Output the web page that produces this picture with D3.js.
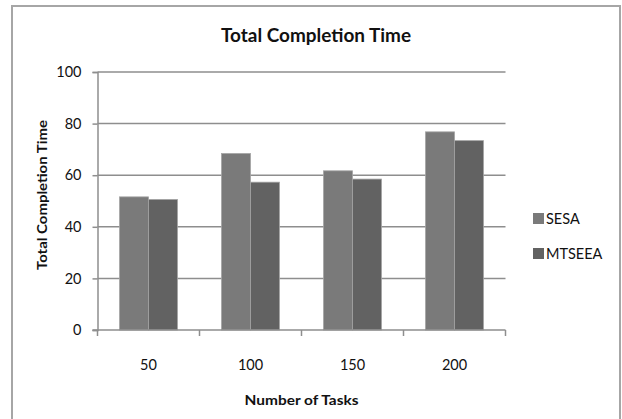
<!DOCTYPE html>
<html>
<head>
<meta charset="utf-8">
<script src="https://cdn.jsdelivr.net/npm/d3@7"></script>
<style>
  html, body { margin: 0; padding: 0; background: #fff; }
  svg { display: block; font-family: Lato, "Noto Sans", sans-serif; }
</style>
</head>
<body>
<svg id="chart" width="622" height="419"></svg>
<script>
// Number of tasks on the x axis
const categories = ["50", "100", "150", "200"];
// Series names, in legend order
const seriesNames = ["SESA", "MTSEEA"];
// Total completion time per task count
const sesaValues = [51.6, 68.4, 61.7, 76.8];
const mtseeaValues = [50.6, 57.3, 58.5, 73.4];
// Y axis ticks
const yTicks = [0, 20, 40, 60, 80, 100];

const seriesValues = [sesaValues, mtseeaValues];
const colors = ["#7a7a7a", "#626262"];

const svg = d3.select("#chart");

// Outer frame
svg.append("rect")
  .attr("x", 12).attr("y", 6)
  .attr("width", 608).attr("height", 420)
  .attr("fill", "#fff")
  .attr("stroke", "#a6a6a6").attr("stroke-width", 2);

const plot = { left: 97.5, right: 505.5, top: 72, bottom: 330 };

const x = d3.scaleBand()
  .domain(categories)
  .range([plot.left, plot.right])
  .paddingInner(0).paddingOuter(0);

const xs = d3.scaleBand()
  .domain(seriesNames)
  .range([0, x.bandwidth()])
  .paddingInner(0).paddingOuter(0.76);

const y = d3.scaleLinear().domain([0, 100]).range([plot.bottom, plot.top]);

// Horizontal gridlines
svg.append("g")
  .selectAll("line")
  .data(yTicks.filter(d => d > 0))
  .join("line")
  .attr("x1", plot.left).attr("x2", plot.right)
  .attr("y1", d => y(d)).attr("y2", d => y(d))
  .attr("stroke", "#8e8e8e").attr("stroke-width", 1.5);

// Bars
const groups = svg.append("g")
  .selectAll("g")
  .data(categories)
  .join("g")
  .attr("transform", d => `translate(${x(d)},0)`);

groups.selectAll("rect")
  .data((c, i) => seriesNames.map((s, j) => ({ s, j, v: seriesValues[j][i] })))
  .join("rect")
  .attr("x", d => xs(d.s))
  .attr("y", d => y(d.v))
  .attr("width", xs.bandwidth())
  .attr("height", d => y(0) - y(d.v))
  .attr("fill", d => colors[d.j])
  .attr("stroke", "#a4a4a4").attr("stroke-width", 0.8);

// Y axis
const yAxis = svg.append("g")
  .attr("transform", `translate(${plot.left},0)`)
  .call(d3.axisLeft(y).tickValues(yTicks).tickSize(5).tickPadding(11));
yAxis.select(".domain").attr("stroke", "#8e8e8e").attr("stroke-width", 1.5);
yAxis.selectAll(".tick line").attr("stroke", "#8e8e8e").attr("stroke-width", 1.5);
yAxis.selectAll(".tick text")
  .attr("font-family", "Lato, sans-serif")
  .attr("font-size", 14.5).attr("fill", "#111");

// X axis with ticks on category boundaries
const xAxisG = svg.append("g")
  .attr("transform", `translate(0,${plot.bottom})`);
xAxisG.append("line")
  .attr("x1", plot.left - 5).attr("x2", plot.right)
  .attr("stroke", "#8e8e8e").attr("stroke-width", 1.5);
const boundaries = categories.map(c => x(c)).concat([plot.right]);
xAxisG.selectAll("line.tick")
  .data(boundaries)
  .join("line")
  .attr("class", "tick")
  .attr("x1", d => d).attr("x2", d => d)
  .attr("y1", 0).attr("y2", 6)
  .attr("stroke", "#8e8e8e").attr("stroke-width", 1.5);
xAxisG.selectAll("text")
  .data(categories)
  .join("text")
  .attr("x", d => x(d) + x.bandwidth() / 2)
  .attr("y", 40)
  .attr("text-anchor", "middle")
  .attr("font-size", 14.5).attr("fill", "#111")
  .text(d => d);

// Title
svg.append("text")
  .attr("x", 316).attr("y", 42)
  .attr("text-anchor", "middle")
  .attr("font-size", 18).attr("font-weight", "bold").attr("fill", "#111")
  .attr("textLength", 190).attr("lengthAdjust", "spacingAndGlyphs")
  .text("Total Completion Time");

// Axis titles
svg.append("text")
  .attr("x", (plot.left + plot.right) / 2).attr("y", 405)
  .attr("text-anchor", "middle")
  .attr("font-size", 14).attr("font-weight", "bold").attr("fill", "#111")
  .attr("textLength", 114).attr("lengthAdjust", "spacingAndGlyphs")
  .text("Number of Tasks");

svg.append("text")
  .attr("transform", "translate(47,195) rotate(-90)")
  .attr("text-anchor", "middle")
  .attr("font-size", 12.5).attr("font-weight", "bold").attr("fill", "#111")
  .attr("textLength", 150).attr("lengthAdjust", "spacingAndGlyphs")
  .text("Total Completion  Time");

// Legend
const legend = svg.append("g")
  .selectAll("g")
  .data(seriesNames)
  .join("g")
  .attr("transform", (d, i) => `translate(533,${213 + i * 35})`);
legend.append("rect")
  .attr("width", 11).attr("height", 11)
  .attr("fill", (d, i) => colors[i]);
legend.append("text")
  .attr("x", 13).attr("y", 11)
  .attr("font-size", 14.5).attr("fill", "#111")
  .text(d => d);
</script>
</body>
</html>
